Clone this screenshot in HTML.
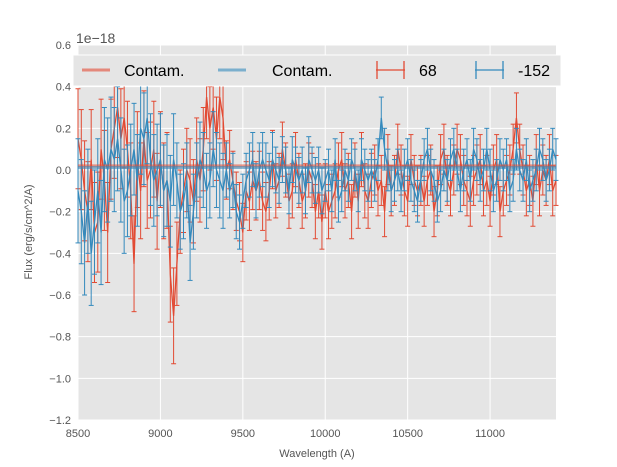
<!DOCTYPE html>
<html><head><meta charset="utf-8"><style>
body{margin:0;background:#fff;}
svg{display:block;font-family:"Liberation Sans","DejaVu Sans",sans-serif;}
</style></head><body>
<svg id="chart" width="617" height="467">
<rect x="78" y="45" width="478" height="375" fill="#e5e5e5"/>
<g id="grid"></g><g id="marks"></g><g id="axes"></g>
</svg>
<script>
const categoriesStart = 8500, categoriesStep = 20;
const redFlux = [0.15,0.05,-0.1,-0.2,0.05,-0.3,-0.25,0.1,-0.05,-0.3,0.1,0.2,0.3,0.15,0.25,
0.1,-0.1,-0.45,0.05,-0.1,0.15,-0.05,0.0,0.1,-0.15,0.05,-0.1,-0.05,-0.5,-0.7,
-0.45,-0.2,-0.1,0.0,-0.05,-0.15,0.05,-0.05,0.1,0.35,0.2,0.3,0.15,0.35,0.25,
0.0,0.05,-0.05,-0.15,-0.2,-0.3,-0.1,-0.15,-0.05,-0.1,-0.05,-0.15,-0.2,-0.1,0.05,
-0.1,-0.05,0.1,0.0,-0.15,-0.1,0.05,-0.05,-0.15,-0.1,0.0,-0.05,-0.2,-0.1,-0.25,
-0.1,-0.2,-0.15,-0.1,0.0,0.05,-0.1,-0.05,-0.2,0.0,-0.15,0.05,-0.1,-0.15,-0.05,
0.0,-0.1,-0.05,-0.2,0.05,-0.1,-0.05,0.1,0.0,-0.1,-0.15,0.05,-0.05,-0.1,-0.05,
-0.15,-0.05,0.0,-0.2,-0.1,0.05,0.1,-0.05,-0.1,0.0,0.1,0.05,-0.05,-0.1,-0.15,
-0.05,0.0,0.05,-0.1,-0.05,-0.15,0.0,0.05,-0.2,-0.1,-0.05,0.0,0.1,0.25,0.1,
0.0,-0.1,-0.05,-0.15,0.05,-0.1,0.0,-0.05,0.05,-0.1,-0.05];
const blueFlux = [-0.1,-0.2,-0.35,-0.15,-0.4,-0.25,-0.1,-0.3,0.05,0.0,0.1,0.05,0.15,0.0,-0.15,
-0.1,0.0,0.1,-0.05,0.2,0.15,0.25,0.05,-0.05,0.0,0.05,-0.1,-0.05,-0.15,0.05,
-0.05,-0.2,-0.15,-0.05,-0.35,-0.2,-0.05,0.05,0.0,-0.1,-0.05,0.1,0.0,-0.05,-0.1,
0.0,-0.1,-0.05,-0.2,-0.25,-0.15,-0.05,0.0,0.05,-0.1,0.0,0.05,0.0,-0.05,0.05,
0.0,-0.05,0.05,0.0,-0.1,0.05,0.0,-0.05,0.0,-0.1,0.05,0.0,-0.05,0.0,-0.1,
-0.05,0.0,-0.1,0.05,-0.15,-0.1,0.0,-0.05,0.05,0.0,-0.1,0.05,0.0,-0.05,0.0,
-0.05,0.05,0.25,0.1,0.0,-0.1,-0.05,0.0,-0.1,0.0,0.05,-0.05,-0.1,-0.15,-0.05,
0.05,0.1,0.0,-0.05,-0.15,-0.1,0.0,-0.05,0.05,0.1,0.0,-0.1,0.0,0.05,-0.05,
0.1,0.05,-0.05,0.0,0.1,0.0,-0.1,-0.05,0.05,0.0,0.05,-0.1,-0.05,0.1,0.0,
-0.05,0.05,-0.1,-0.05,0.0,0.1,0.05,-0.05,0.0,0.1,0.05];
const redErrBySegment = [0.24,0.23,0.2,0.14,0.13,0.13,0.12,0.12,0.12,0.12];
const blueErrBySegment = [0.25,0.22,0.18,0.13,0.11,0.1,0.1,0.1,0.1,0.1];
const redContam = 0.02, blueContam = 0.012;
const xTicks = [8500,9000,9500,10000,10500,11000];
const yTicks = [0.6,0.4,0.2,0.0,-0.2,-0.4,-0.6,-0.8,-1.0,-1.2];
const yTickLabels = ["0.6","0.4","0.2","0.0","\u22120.2","\u22120.4","\u22120.6","\u22120.8","\u22121.0","\u22121.2"];

const NS="http://www.w3.org/2000/svg";
const X0=78,X1=556,Y0=45,Y1=420,XMIN=8500,XMAX=11400,YMIN=-1.2,YMAX=0.6;
const sx=v=>X0+(v-XMIN)/(XMAX-XMIN)*(X1-X0);
const sy=v=>Y1-(v-YMIN)/(YMAX-YMIN)*(Y1-Y0);
function el(t,a,p){const e=document.createElementNS(NS,t);for(const k in a)e.setAttribute(k,a[k]);p.appendChild(e);return e;}
const grid=document.getElementById('grid'),marks=document.getElementById('marks'),axes=document.getElementById('axes');
xTicks.forEach(t=>{const l=el('line',{x1:sx(t),x2:sx(t),y1:Y0,y2:Y1,stroke:'#fff','stroke-width':1},grid);

const tx=el('text',{x:sx(t),y:Y1+17,'text-anchor':'middle','font-size':11,fill:'#555'},axes);tx.textContent=t;
});
yTicks.forEach((t,i)=>{const l=el('line',{x1:X0,x2:X1,y1:sy(t),y2:sy(t),stroke:'#fff','stroke-width':1},grid);

const tx=el('text',{x:X0-7,y:sy(t)+4,'text-anchor':'end','font-size':11,fill:'#555'},axes);tx.textContent=yTickLabels[i];
});

function series(vals,errs,color,name){
  const g=el('g',{},marks);
  
  let d='';
  vals.forEach((v,i)=>{const x=sx(categoriesStart+i*categoriesStep),e=errs[Math.min(Math.floor(i/15),errs.length-1)];
    const ya=sy(v+e),yb=sy(v-e);
    el('line',{x1:x,x2:x,y1:ya,y2:yb,stroke:color,'stroke-width':1},g);
    el('line',{x1:x-2.5,x2:x+2.5,y1:ya,y2:ya,stroke:color,'stroke-width':1},g);
    el('line',{x1:x-2.5,x2:x+2.5,y1:yb,y2:yb,stroke:color,'stroke-width':1},g);
    d+=(i?'L':'M')+x.toFixed(1)+' '+sy(v).toFixed(1);});
  el('path',{d:d,fill:'none',stroke:color,'stroke-width':1.3},g);
}
series(redFlux,redErrBySegment,'#E24A33','series-68');
series(blueFlux,blueErrBySegment,'#348ABD','series-minus152');
const c1=el('line',{x1:X0,x2:X1,y1:sy(redContam),y2:sy(redContam),stroke:'#E24A33','stroke-opacity':0.55,'stroke-width':3},marks);

const c2=el('line',{x1:X0,x2:X1,y1:sy(blueContam),y2:sy(blueContam),stroke:'#348ABD','stroke-opacity':0.55,'stroke-width':3},marks);


// legend
const lg=el('g',{},axes);

el('rect',{x:73,y:55,width:488,height:31,fill:'#e5e5e5',stroke:'#fff','stroke-width':1},lg);
el('line',{x1:82,x2:110,y1:70,y2:70,stroke:'#E24A33','stroke-opacity':0.6,'stroke-width':3},lg);
el('line',{x1:218,x2:246,y1:70,y2:70,stroke:'#348ABD','stroke-opacity':0.6,'stroke-width':3},lg);
[[376,'#E24A33'],[475,'#348ABD']].forEach(([x,c])=>{
  el('line',{x1:x,x2:x+29,y1:70,y2:70,stroke:c,'stroke-width':1.3},lg);
  el('line',{x1:x+1,x2:x+1,y1:61,y2:79,stroke:c,'stroke-width':1.3},lg);
  el('line',{x1:x+28,x2:x+28,y1:61,y2:79,stroke:c,'stroke-width':1.3},lg);});
[[124,'Contam.','legend-entry-contam-red'],[272,'Contam.','legend-entry-contam-blue'],[419,'68','legend-entry-68'],[518,'-152','legend-entry-minus152']].forEach(([x,t,n])=>{
  const tx=el('text',{x:x,y:76,'font-size':16,fill:'#000'},lg);tx.textContent=t;
  });

const off=el('text',{x:76,y:43,'font-size':14,fill:'#555'},axes);off.textContent='1e\u221218';

const xl=el('text',{x:317,y:457,'text-anchor':'middle','font-size':11,fill:'#555'},axes);xl.textContent='Wavelength (A)';

const yl=el('text',{x:0,y:0,'text-anchor':'middle','font-size':11,fill:'#555',transform:'translate(32,232) rotate(-90)'},axes);yl.textContent='Flux (erg/s/cm^2/A)';

</script>
</body></html>
